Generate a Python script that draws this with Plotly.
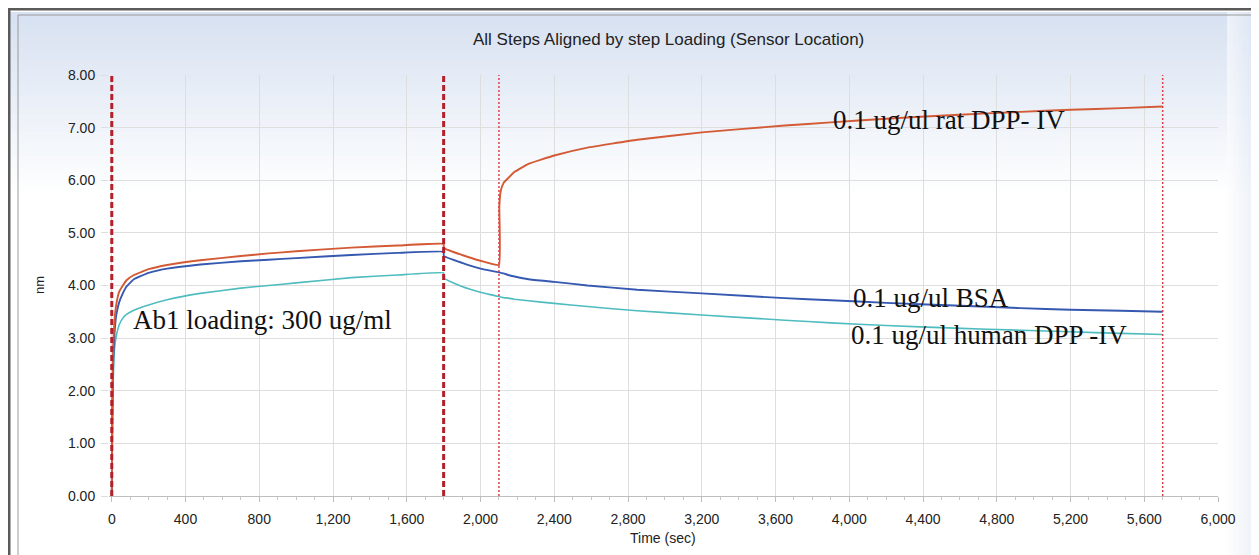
import plotly.graph_objects as go

# ---------------- data ----------------
time_s = [0, 3, 8, 15, 25, 40, 60, 80, 120, 200, 300, 480, 700, 850, 1000, 1300, 1550, 1800,
          1801, 1900, 2000, 2100, 2102, 2110, 2125, 2150, 2185, 2260, 2400, 2580, 2850, 3200,
          3650, 3900, 4200, 4570, 4930, 5200, 5475, 5700]

rat_dpp = [0.0, 1.8, 2.9, 3.35, 3.65, 3.88, 4.0, 4.1, 4.2, 4.31, 4.39, 4.48, 4.56, 4.61, 4.65, 4.72, 4.76, 4.79,
           4.71, 4.58, 4.47, 4.39, 5.5, 5.8, 5.95, 6.04, 6.16, 6.31, 6.47, 6.62, 6.77, 6.91,
           7.04, 7.10, 7.17, 7.24, 7.30, 7.34, 7.37, 7.40]

bsa = [0.0, 1.5, 2.6, 3.1, 3.45, 3.68, 3.85, 3.98, 4.12, 4.24, 4.32, 4.40, 4.46, 4.49, 4.52, 4.58, 4.62, 4.64,
       4.56, 4.43, 4.32, 4.25, 4.25, 4.24, 4.23, 4.20, 4.17, 4.12, 4.07, 4.00, 3.92, 3.85,
       3.76, 3.72, 3.67, 3.62, 3.57, 3.54, 3.52, 3.50]

human_dpp = [0.0, 1.2, 2.2, 2.8, 3.05, 3.25, 3.38, 3.45, 3.53, 3.63, 3.73, 3.85, 3.95, 4.00, 4.05, 4.15, 4.20, 4.24,
             4.14, 3.98, 3.87, 3.79, 3.79, 3.78, 3.77, 3.76, 3.74, 3.71, 3.66, 3.60, 3.52, 3.44,
             3.34, 3.29, 3.24, 3.19, 3.15, 3.12, 3.09, 3.07]

step_times_major = [0, 1800]
step_times_minor = [2100, 5700]

x_ticks = list(range(0, 6001, 400))
x_tick_text = [f"{v:,}" for v in x_ticks]
y_ticks = list(range(0, 9))
y_tick_text = [f"{v:.2f}" for v in y_ticks]

title_text = "All Steps Aligned by step Loading (Sensor Location)"
labels = {
    "load": "Ab1 loading: 300 ug/ml",
    "rat": "0.1 ug/ul rat DPP- IV",
    "bsa": "0.1 ug/ul BSA",
    "human": "0.1 ug/ul human DPP -IV",
}

# ---------------- layout geometry (pixels) ----------------
W, H = 1259, 555
L, R, T, B = 101, 1210, 67, 488


def px(xpix):
    return (xpix - L) / (R - L)


def py(ypix):
    return (B - ypix) / (B - T)


fig = go.Figure()

line_kw = dict(shape="spline", smoothing=0.3)
fig.add_trace(go.Scatter(x=time_s, y=human_dpp, mode="lines",
                         line=dict(color="#4fbcbf", width=1.6, **line_kw), showlegend=False))
fig.add_trace(go.Scatter(x=time_s, y=bsa, mode="lines",
                         line=dict(color="#3558b0", width=1.9, **line_kw), showlegend=False))
fig.add_trace(go.Scatter(x=time_s, y=rat_dpp, mode="lines",
                         line=dict(color="#d35a35", width=1.9, **line_kw), showlegend=False))

shapes = []
# background gradient (top)
n = 30
top_c = (216, 226, 242)
for i in range(n):
    f = i / n
    c = tuple(int(top_c[k] + (255 - top_c[k]) * f) for k in range(3))
    y0 = 4 + i * 6.0
    shapes.append(dict(type="rect", xref="paper", yref="paper", x0=px(0), x1=px(W),
                       y0=py(y0 + 6.0), y1=py(y0), fillcolor=f"rgb{c}", line=dict(width=0), layer="below"))
# right side gradient
for i in range(12):
    f = i / 12
    c = tuple(int(top_c[k] + (255 - top_c[k]) * f) for k in range(3))
    x1 = W - 4 - i * 3
    shapes.append(dict(type="rect", xref="paper", yref="paper", x0=px(x1 - 3), x1=px(x1),
                       y0=py(H - 4), y1=py(4), fillcolor=f"rgba{c + (0.6,)}", line=dict(width=0), layer="below"))

# frames
shapes.append(dict(type="rect", xref="paper", yref="paper", x0=px(1), x1=px(W - 1), y0=py(H - 1), y1=py(1),
                   line=dict(color="#5a5a5a", width=3), layer="above"))
shapes.append(dict(type="rect", xref="paper", yref="paper", x0=px(10), x1=px(W - 5), y0=py(H - 5), y1=py(7),
                   line=dict(color="#9a9a9a", width=1), layer="above"))

# step boundary lines
for st in step_times_major:
    shapes.append(dict(type="line", xref="x", yref="y", x0=st, x1=st, y0=0, y1=8,
                       line=dict(color="#b3202a", width=3, dash="6px,3px"), layer="above"))
for st in step_times_minor:
    shapes.append(dict(type="line", xref="x", yref="y", x0=st, x1=st, y0=0, y1=8,
                       line=dict(color="#e0404a", width=1.5, dash="2px,2px"), layer="above"))

serif = dict(family="Liberation Serif", size=27, color="#111111")
annotations = [
    dict(text=title_text, xref="paper", yref="paper", x=px(660), y=py(32), showarrow=False,
         font=dict(family="Liberation Sans", size=17, color="#222222"), xanchor="center", yanchor="middle"),
    dict(text="nm", xref="paper", yref="paper", x=px(31), y=py(277), showarrow=False, textangle=-90,
         font=dict(family="Liberation Sans", size=13, color="#222222"), xanchor="center", yanchor="middle"),
    dict(text="Time (sec)", xref="paper", yref="paper", x=px(655), y=py(530), showarrow=False,
         font=dict(family="Liberation Sans", size=14, color="#222222"), xanchor="center", yanchor="middle"),
    dict(text=labels["load"], xref="paper", yref="paper", x=px(123), y=py(312), showarrow=False,
         font=serif, xanchor="left", yanchor="middle"),
    dict(text=labels["rat"], xref="paper", yref="paper", x=px(823), y=py(112), showarrow=False,
         font=serif, xanchor="left", yanchor="middle"),
    dict(text=labels["bsa"], xref="paper", yref="paper", x=px(843), y=py(290), showarrow=False,
         font=serif, xanchor="left", yanchor="middle"),
    dict(text=labels["human"], xref="paper", yref="paper", x=px(841), y=py(327), showarrow=False,
         font=serif, xanchor="left", yanchor="middle"),
]

fig.update_layout(
    width=W, height=H,
    margin=dict(l=L, r=W - R, t=T, b=H - B, pad=0),
    paper_bgcolor="white",
    plot_bgcolor="rgba(0,0,0,0)",
    showlegend=False,
    shapes=shapes,
    annotations=annotations,
    font=dict(family="Liberation Sans", size=14, color="#222222"),
)

fig.update_xaxes(
    range=[-15, 6000], tickvals=x_ticks, ticktext=x_tick_text,
    showgrid=True, gridcolor="#dedede", gridwidth=1, zeroline=False,
    showline=True, linecolor="#bdbdbd", linewidth=1,
    ticks="outside", ticklen=5, tickcolor="#bdbdbd", ticklabelstandoff=5,
    minor=dict(dtick=100, tick0=0, ticks="outside", ticklen=3, tickcolor="#c8c8c8", showgrid=False),
    tickfont=dict(size=14, color="#222222"),
)
fig.update_yaxes(
    range=[0, 8], tickvals=y_ticks, ticktext=y_tick_text,
    showgrid=True, gridcolor="#dedede", gridwidth=1, zeroline=False,
    showline=False, ticks="outside", ticklen=7, tickcolor="#dedede", ticklabelstandoff=3,
    tickfont=dict(size=14, color="#222222"),
)

fig.write_html("out.html")
